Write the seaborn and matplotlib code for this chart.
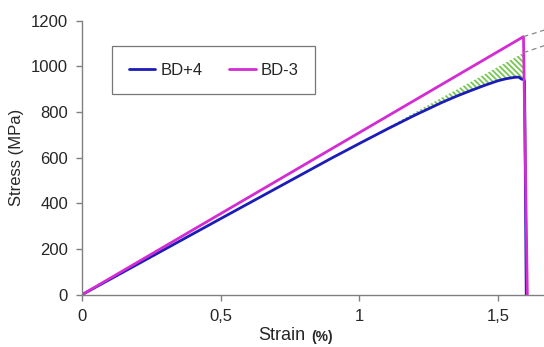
import numpy as np
import pandas as pd
import matplotlib
matplotlib.use("Agg")
import matplotlib.pyplot as plt
import seaborn as sns

strain_bd4 = [0, 0.5, 0.9, 1.0, 1.1, 1.2, 1.3, 1.35, 1.4, 1.45, 1.5, 1.53, 1.56, 1.575, 1.585, 1.592, 1.596, 1.602]
stress_bd4 = [0, 333, 598, 662, 725, 786, 843, 869, 893, 916, 937, 946, 952, 953, 944, 944, 935, 0]
strain_bd3 = [0, 1.592, 1.606]
stress_bd3 = [0, 1130, 0]

# linear elastic references (dashed extensions + hatched area)
ref_strain = [1.592, 1.67]
ref_bd3 = [1130, 1160]
ref_bd4 = [1060, 1092]
hatch_strain = [0.9, 1.0, 1.1, 1.2, 1.3, 1.35, 1.4, 1.45, 1.5, 1.53, 1.56, 1.575, 1.585, 1.592]
hatch_low = [598, 662, 725, 786, 843, 869, 893, 916, 937, 946, 952, 953, 944, 944]
hatch_high = [598, 665, 731, 798, 865, 898, 931, 964, 998, 1018, 1038, 1048, 1054, 1060]

XTICKS = [0, 0.5, 1, 1.5]
XTICKLABELS = ["0", "0,5", "1", "1,5"]
YTICKS = [0, 200, 400, 600, 800, 1000, 1200]

sns.set_style("white")
plt.rcParams['font.family'] = ['Liberation Sans', 'DejaVu Sans']
plt.rcParams['hatch.linewidth'] = 1.3

df = pd.concat([
    pd.DataFrame({"strain": strain_bd4, "stress": stress_bd4, "sample": "BD+4"}),
    pd.DataFrame({"strain": strain_bd3, "stress": stress_bd3, "sample": "BD-3"}),
], ignore_index=True)

fig = plt.figure(figsize=(5.44, 3.47), dpi=100)
ax = fig.add_axes([82 / 544, 52.3 / 347, 462 / 544, 274 / 347])

# hatched area between blue curve and its elastic line
ax.fill_between(hatch_strain, hatch_low, hatch_high, facecolor="white",
                edgecolor="#74c850", hatch="\\\\\\\\\\\\", linewidth=0)

sns.lineplot(data=df, x="strain", y="stress", hue="sample", sort=False,
             estimator=None, palette={"BD+4": "#1c1cb8", "BD-3": "#d22cd2"},
             linewidth=2, ax=ax)

ax.plot(ref_strain, ref_bd3, ls=(0, (4, 3)), color="#888888", lw=0.9)
ax.plot(ref_strain, ref_bd4, ls=(0, (4, 3)), color="#888888", lw=0.9)

ax.set_xlim(0, 462 / 277.3)
ax.set_ylim(0, 1200)
ax.set_xticks(XTICKS)
ax.set_xticklabels(XTICKLABELS)
ax.set_yticks(YTICKS)
ax.tick_params(axis="both", labelsize=12, length=4, width=1, color="#808080",
               direction="out", bottom=True, left=True, pad=6)
for side in ["top", "right"]:
    ax.spines[side].set_visible(False)
for side in ["left", "bottom"]:
    ax.spines[side].set_color("#808080")
    ax.spines[side].set_linewidth(1)

ax.set_xlabel("")
ax.set_ylabel("Stress (MPa)", fontsize=12, labelpad=5)
fig.text(305 / 544, 0.008, "Strain", fontsize=13, ha="right", va="bottom")
fig.text(311 / 544, 0.008, "(%)", fontsize=10, fontweight="bold", ha="left", va="bottom")

leg = ax.legend(loc="upper left", bbox_to_anchor=(0.065, 0.908), borderaxespad=0,
                ncol=2, fontsize=12, frameon=True, fancybox=False, title=None,
                handlelength=1.6, handletextpad=0.3, columnspacing=1.6,
                borderpad=1.0)
leg.get_frame().set_edgecolor("#555555")
leg.get_frame().set_linewidth(0.9)
for line in leg.get_lines():
    line.set_linewidth(2)

fig.savefig("out.png", dpi=100)
